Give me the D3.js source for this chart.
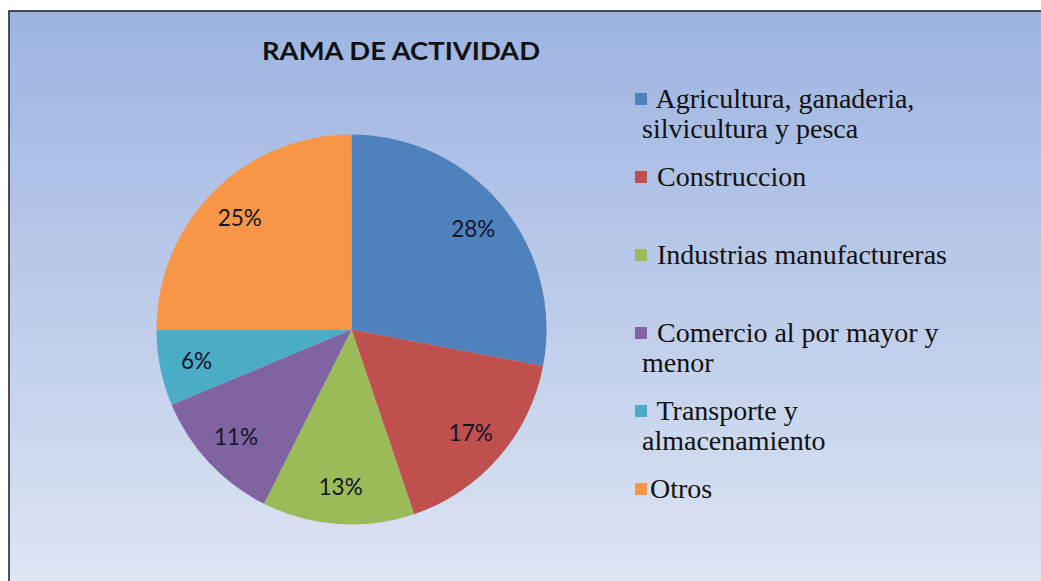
<!DOCTYPE html>
<html>
<head>
<meta charset="utf-8">
<script src="https://cdn.jsdelivr.net/npm/d3@7"></script>
<style>
html,body{margin:0;padding:0;background:#fff;}
svg{display:block;}
</style>
</head>
<body>
<svg id="chart" width="1041" height="581"></svg>
<script>
// ---- data ----
const title = "RAMA DE ACTIVIDAD";
const categories = [
  "Agricultura, ganaderia, silvicultura y pesca",
  "Construccion",
  "Industrias manufactureras",
  "Comercio al por mayor y menor",
  "Transporte y almacenamiento",
  "Otros"
];
const legendLines = [
  [" Agricultura, ganaderia,", "silvicultura y pesca"],
  [" Construccion"],
  [" Industrias manufactureras"],
  [" Comercio al por mayor y", "menor"],
  [" Transporte y", "almacenamiento"],
  ["Otros"]
];
const values = [28, 16.8, 12.6, 11.3, 6.3, 25];
const colors = ["#4f81bd", "#c0504d", "#9bbb59", "#8064a2", "#4bacc6", "#f79646"];

// ---- drawing ----
const svg = d3.select("#chart");
const W = 1041, H = 581;

const defs = svg.append("defs");
const grad = defs.append("linearGradient").attr("id", "bg")
  .attr("x1", 0).attr("y1", 0).attr("x2", 0).attr("y2", 1);
grad.append("stop").attr("offset", "0%").attr("stop-color", "#9db4e1");
grad.append("stop").attr("offset", "50%").attr("stop-color", "#bccbea");
grad.append("stop").attr("offset", "100%").attr("stop-color", "#dde5f3");

const frameX = 9, frameY = 11;
svg.append("rect").attr("x", frameX).attr("y", frameY)
  .attr("width", W - frameX).attr("height", H - frameY)
  .attr("fill", "url(#bg)");
svg.append("path")
  .attr("d", `M${frameX},${H} L${frameX},${frameY} L${W},${frameY}`)
  .attr("fill", "none").attr("stroke", "#1b1b2b").attr("stroke-width", 1.5);

// title
svg.append("text")
  .attr("x", 262).attr("y", 59.5)
  .attr("font-family", "Lato, 'Open Sans', sans-serif")
  .attr("font-weight", "bold")
  .attr("font-size", 24)
  .attr("fill", "#111")
  .attr("textLength", 278)
  .attr("lengthAdjust", "spacingAndGlyphs")
  .text(title);

// pie
const cx = 351.5, cy = 329.5, R = 195;
const pie = d3.pie().sort(null).value(d => d)(values);
const arc = d3.arc().innerRadius(0).outerRadius(R);
const labelArc = d3.arc().innerRadius(158).outerRadius(158);
const total = d3.sum(values);
const color = d3.scaleOrdinal().domain(categories).range(colors);

const g = svg.append("g").attr("transform", `translate(${cx},${cy})`);
g.selectAll("path.slice").data(pie).enter().append("path")
  .attr("class", "slice")
  .attr("d", arc)
  .attr("fill", (d, i) => color(categories[i]));

g.selectAll("text.lbl").data(pie).enter().append("text")
  .attr("class", "lbl")
  .attr("transform", d => `translate(${labelArc.centroid(d)})`)
  .attr("text-anchor", "middle")
  .attr("dy", "0.36em")
  .attr("font-family", "Lato, 'Open Sans', sans-serif")
  .attr("font-size", 22.5)
  .attr("fill", "#15152a")
  .text(d => Math.round(d.value / total * 100) + "%");

// legend
const ly = d3.scalePoint().domain(categories).range([99, 489]);
const lg = svg.append("g");
const items = lg.selectAll("g.item").data(categories).enter().append("g")
  .attr("class", "item")
  .attr("transform", d => `translate(0,${ly(d)})`);
items.append("rect")
  .attr("x", 635).attr("y", -6).attr("width", 12).attr("height", 12)
  .attr("fill", d => color(d));
items.each(function(d, i) {
  const t = d3.select(this).append("text")
    .attr("font-family", "'Liberation Serif', 'Times New Roman', serif")
    .attr("font-size", 28)
    .attr("fill", "#111");
  legendLines[i].forEach((line, j) => {
    t.append("tspan")
      .attr("x", j === 0 ? 650 : 642)
      .attr("y", 9 + j * 30)
      .attr("xml:space", "preserve")
      .style("white-space", "pre")
      .text(line);
  });
});
</script>
</body>
</html>
